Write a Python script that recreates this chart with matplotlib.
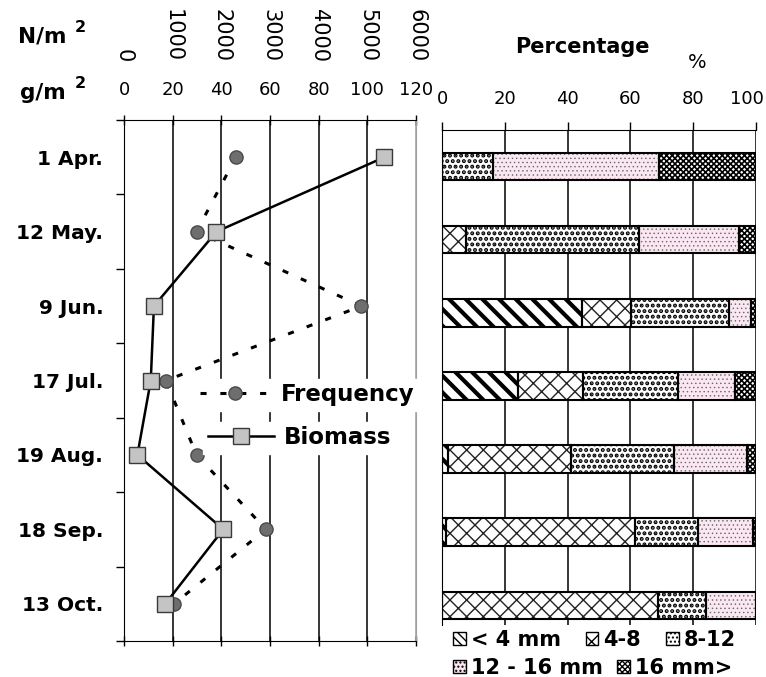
import numpy as np
import matplotlib
matplotlib.use("Agg")
import matplotlib.pyplot as plt
import matplotlib.patches as mpatches
import matplotlib.transforms as mtransforms
from matplotlib.lines import Line2D

plt.rcParams["font.family"] = ["DejaVu Sans"]

# ---- data ----
dates = ["1 Apr.", "12 May.", "9 Jun.", "17 Jul.", "19 Aug.", "18 Sep.", "13 Oct."]
biomass = [107, 38, 12.3, 11, 5.5, 40.8, 17]            # g/m2
frequency = [2300, 1490, 4880, 860, 1490, 2915, 1030]   # N/m2
n_per_g = 50                                            # 6000 N/m2 <-> 120 g/m2 on the shared axis

size_classes = ["< 4 mm", "4-8", "8-12", "12 - 16 mm", "16 mm>"]
pct_lt4 = [0, 0, 44.5, 24.3, 1.9, 1.4, 0]
pct_4_8 = [0, 7.5, 15.7, 20.5, 39.1, 60.0, 68.7]
pct_8_12 = [16.2, 55.2, 31.3, 30.5, 32.9, 20.0, 15.4]
pct_12_16 = [52.9, 31.9, 6.8, 18.0, 23.1, 17.8, 15.9]
pct_gt16 = [30.9, 5.4, 1.7, 6.7, 3.0, 0.8, 0]

g_ticks = list(range(0, 121, 20))
n_ticks = list(range(0, 6001, 1000))
pct_ticks = list(range(0, 101, 20))

W, H = 766, 677
fig = plt.figure(figsize=(W / 100, H / 100), dpi=100)


def fx(px):
    return px / W


def fy(py):
    return 1 - py / H


y = np.arange(len(dates))

# ---- left panel: frequency and biomass ----
ax = fig.add_axes([fx(124), fy(641), fx(416) - fx(124), fy(120) - fy(641)])
ax.plot(np.array(frequency) / n_per_g, y, ls=(0, (2, 4.5)), lw=2.2, color="black",
        marker="o", ms=9.5, mfc="#6e6e6e", mec="#4a4a4a", zorder=3)
ax.plot(biomass, y, color="black", lw=1.8, marker="s", ms=11,
        mfc="#c4c4c4", mec="#3a3a3a", mew=1, zorder=4)
ax.set_xlim(0, 120)
ax.set_ylim(6.5, -0.5)

ax.set_xticks(g_ticks)
ax.xaxis.set_ticks_position("both")
ax.tick_params(axis="x", direction="inout", length=7, width=1, labeltop=True,
               labelbottom=False, labelsize=13, pad=11.5)
ax.grid(axis="x", color="black", lw=1.1)
ax.get_xgridlines()[-1].set_color("#a0a0a0")
ax.spines["right"].set_color("#a0a0a0")

ax.set_yticks(y)
ax.set_yticklabels(dates, fontsize=14.5, fontweight="bold")
ax.tick_params(axis="y", which="major", length=0, pad=15)
ax.set_yticks(np.arange(-0.5, len(dates), 1), minor=True)
ax.tick_params(axis="y", which="minor", length=6, width=1, direction="out")

sec = ax.secondary_xaxis(1.111, functions=(lambda g: g * n_per_g, lambda n: n / n_per_g))
sec.set_xticks(n_ticks)
sec.tick_params(axis="x", length=0, pad=0, labelsize=15, labelrotation=-90)
for s in sec.spines.values():
    s.set_visible(False)

leg_f = ax.legend(handles=[Line2D([], [], ls=(0, (2, 4.5)), lw=2.2, color="black", marker="o",
                                  ms=9.5, mfc="#6e6e6e", mec="#4a4a4a")],
                  labels=["Frequency"], loc="center left",
                  bbox_to_anchor=(fx(195), fy(395)), bbox_transform=fig.transFigure,
                  prop={"size": 16.5, "weight": "bold"}, handlelength=3.05,
                  handletextpad=0.5, borderpad=0.2, borderaxespad=0,
                  fancybox=False, framealpha=1, edgecolor="white")
ax.add_artist(leg_f)
ax.legend(handles=[Line2D([], [], color="black", lw=1.8, marker="s", ms=11,
                          mfc="#c4c4c4", mec="#3a3a3a")],
          labels=["Biomass"], loc="center left",
          bbox_to_anchor=(fx(203), fy(438)), bbox_transform=fig.transFigure,
          prop={"size": 16.5, "weight": "bold"}, handlelength=2.9,
          handletextpad=0.45, borderpad=0.2, borderaxespad=0,
          fancybox=False, framealpha=1, edgecolor="white")

fig.text(fx(18), fy(43), "N/m", fontsize=15.5, fontweight="bold", va="baseline")
fig.text(fx(75), fy(32), "2", fontsize=11.5, fontweight="bold", va="baseline")
fig.text(fx(20), fy(99), "g/m", fontsize=15.5, fontweight="bold", va="baseline")
fig.text(fx(75), fy(88), "2", fontsize=11.5, fontweight="bold", va="baseline")

# ---- right panel: size class percentages ----
axr = fig.add_axes([fx(442), fy(625), fx(756) - fx(442), fy(130) - fy(625)])
# values, face, bar hatch, hatch colour, hatch width, legend-swatch hatch
styles = [
    (pct_lt4, "white", "\\\\", "black", 3.0, "\\\\\\\\"),
    (pct_4_8, "white", "xx", "#222222", 1.0, "xx"),
    (pct_8_12, "white", "...", "black", 2.0, "...."),
    (pct_12_16, "#fbe7f1", "....", "#666666", 0.5, "...."),
    (pct_gt16, "white", "xxxxxx", "black", 1.2, "xxxxxx"),
]
left = np.zeros(len(dates))
handles = []
for vals, face, hatch, hcol, hlw, hhatch in styles:
    with plt.rc_context({"hatch.linewidth": hlw}):
        bars = axr.barh(y, vals, left=left, height=0.376, color=face, edgecolor=hcol,
                        hatch=hatch, lw=0, zorder=2)
        for b in bars:
            if hasattr(b, "set_hatch_linewidth"):
                b.set_hatch_linewidth(hlw)
        h = mpatches.Patch(facecolor=face, edgecolor="black", hatch=hhatch, lw=1)
        if hasattr(h, "set_hatch_linewidth"):
            h.set_hatch_linewidth(min(hlw, 1.5))
    handles.append(h)
    axr.barh(y, vals, left=left, height=0.376, fill=False, edgecolor="black", lw=1.5, zorder=3)
    left += np.array(vals)

axr.set_xlim(0, 100)
axr.set_ylim(6.27, -0.5)
axr.set_xticks(pct_ticks)
axr.set_yticks([])
axr.xaxis.set_ticks_position("top")
axr.tick_params(axis="x", direction="out", length=5.5, width=1, labelsize=13, pad=10)
axr.grid(axis="x", color="black", lw=1.1)
axr.set_axisbelow(True)
axr.spines["bottom"].set_visible(False)
axr.spines["right"].set_visible(False)
# last label sits against the figure edge, as in the reference
last = axr.get_xticklabels()[-1]
last.set_transform(last.get_transform() +
                   mtransforms.ScaledTranslation(-9 / 100, 0, fig.dpi_scale_trans))

fig.text(fx(582), fy(47), "Percentage", fontsize=15, fontweight="bold", ha="center", va="center")
fig.text(fx(697), fy(62), "%", fontsize=14, ha="center", va="center")

leg_kw = dict(frameon=False, loc="center left", bbox_transform=fig.transFigure,
              prop={"size": 15, "weight": "bold"}, handlelength=0.6, handleheight=0.6,
              handletextpad=0.25, borderpad=0, borderaxespad=0)
fig.legend(handles[:3], size_classes[:3], ncol=3, columnspacing=1.2,
           bbox_to_anchor=(fx(453), fy(640)), **leg_kw)
fig.legend(handles[3:], size_classes[3:], ncol=2, columnspacing=0.7,
           bbox_to_anchor=(fx(453), fy(668)), **leg_kw)

fig.savefig("out.png", dpi=100)
